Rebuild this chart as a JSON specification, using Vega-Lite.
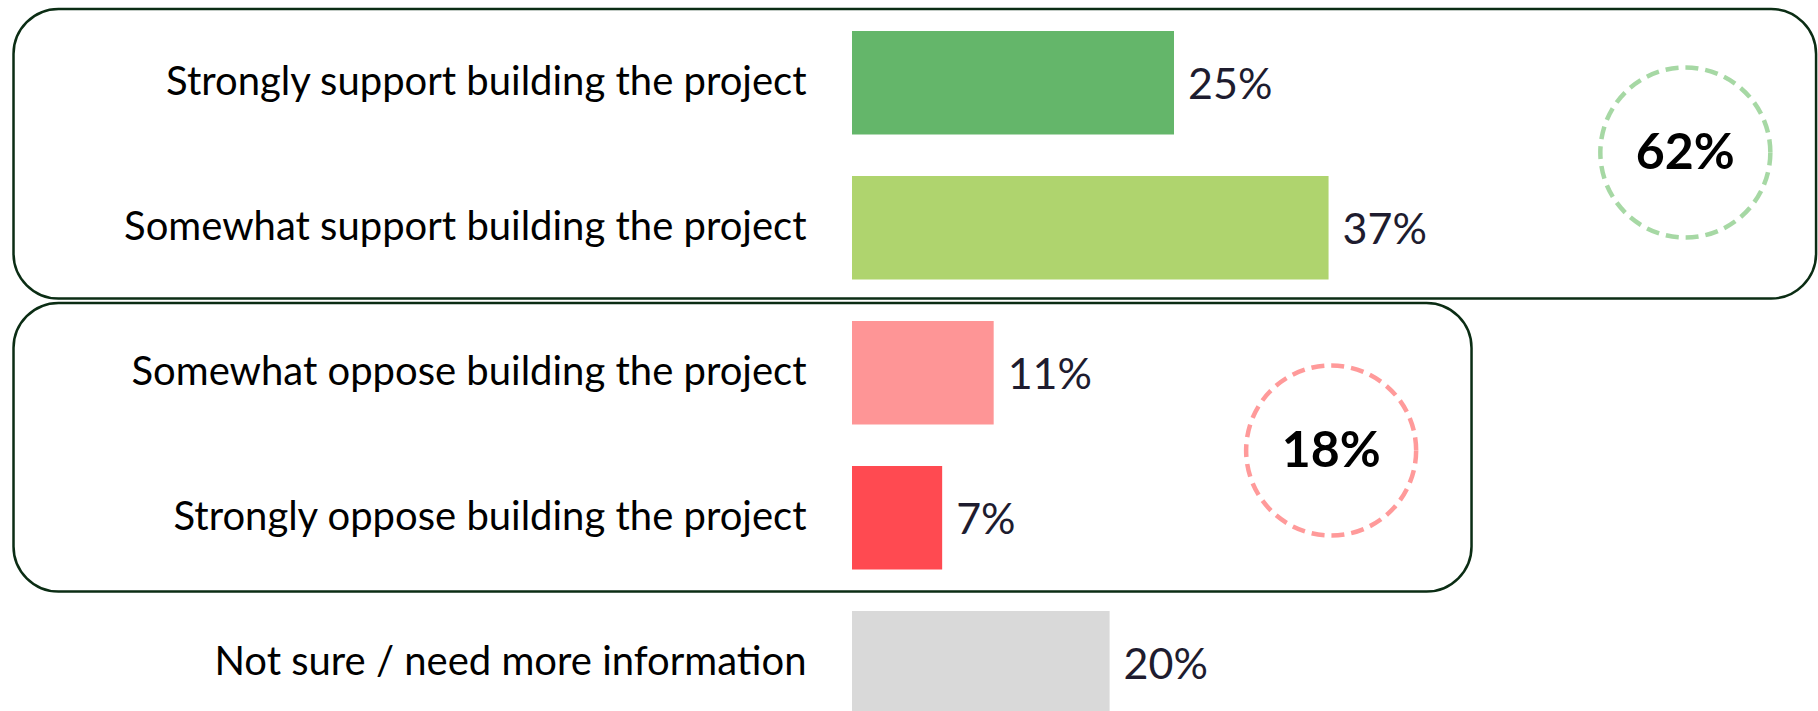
{
  "$schema": "https://vega.github.io/schema/vega-lite/v6.json",
  "width": 966,
  "height": 745.5,
  "autosize": {"type": "none"},
  "padding": {"left": 852, "top": 0, "right": 0, "bottom": 0},
  "background": "white",
  "config": {"view": {"stroke": null}, "font": "Lato"},
  "datasets": {
    "bars": [
      {"answer": "Strongly support building the project", "pct": 25, "label": "25%"},
      {"answer": "Somewhat support building the project", "pct": 37, "label": "37%"},
      {"answer": "Somewhat oppose building the project", "pct": 11, "label": "11%"},
      {"answer": "Strongly oppose building the project", "pct": 7, "label": "7%"},
      {"answer": "Not sure / need more information", "pct": 20, "label": "20%"}
    ],
    "groups": [
      {"group": "Support", "first": "Strongly support building the project", "last": "Somewhat support building the project", "left": -65.1, "right": 74.85, "center": 64.7, "total": "62%"},
      {"group": "Oppose", "first": "Somewhat oppose building the project", "last": "Strongly oppose building the project", "left": -65.1, "right": 48.1, "center": 37.2, "total": "18%"}
    ]
  },
  "layer": [
    {
      "data": {"name": "bars"},
      "mark": {"type": "bar"},
      "encoding": {
        "y": {
          "field": "answer", "type": "nominal",
          "scale": {"domain": ["Strongly support building the project", "Somewhat support building the project", "Somewhat oppose building the project", "Strongly oppose building the project", "Not sure / need more information"], "paddingInner": 0.2862, "paddingOuter": 0.2138},
          "axis": {"title": null, "ticks": false, "domain": false, "labelFont": "Lato", "labelFontSize": 40, "labelColor": "#000000", "labelPadding": 46, "labelLimit": 1000}
        },
        "x": {"field": "pct", "type": "quantitative", "scale": {"domain": [0, 75], "nice": false, "zero": true}, "axis": null},
        "color": {
          "field": "answer", "type": "nominal", "legend": null,
          "scale": {"domain": ["Strongly support building the project", "Somewhat support building the project", "Somewhat oppose building the project", "Strongly oppose building the project", "Not sure / need more information"], "range": ["#64b66a", "#afd46e", "#fe9596", "#ff4a51", "#d9d9d9"]}
        }
      }
    },
    {
      "data": {"name": "bars"},
      "mark": {"type": "text", "align": "left", "baseline": "middle", "dx": 14, "dy": 3, "fontSize": 43, "font": "Lato", "color": "#1e1c2f"},
      "encoding": {
        "y": {"field": "answer", "type": "nominal"},
        "x": {"field": "pct", "type": "quantitative"},
        "text": {"field": "label"}
      }
    },
    {
      "data": {"name": "groups"},
      "transform": [{"filter": "datum.group === 'Support'"}],
      "layer": [
        {
          "mark": {"type": "rect", "filled": false, "stroke": "#0b2d14", "strokeWidth": 2.5, "cornerRadius": 45, "yOffset": -22, "y2Offset": 19},
          "encoding": {
            "x": {"field": "left", "type": "quantitative"},
            "x2": {"field": "right"},
            "y": {"field": "first", "type": "nominal", "bandPosition": 0},
            "y2": {"field": "last", "bandPosition": 1}
          }
        },
        {
          "mark": {"type": "point", "shape": "circle", "filled": false, "size": 28900, "strokeWidth": 4.5, "strokeDash": [13, 7], "yOffset": 69.75, "opacity": 1},
          "encoding": {
            "x": {"field": "center", "type": "quantitative"},
            "y": {"field": "first", "type": "nominal"},
            "stroke": {"field": "group", "type": "nominal", "legend": null, "scale": {"domain": ["Support", "Oppose"], "range": ["#a6d8a4", "#ff9a9a"]}}
          }
        },
        {
          "mark": {"type": "text", "align": "center", "baseline": "middle", "fontSize": 50, "fontWeight": "bold", "font": "Lato", "color": "#000000", "yOffset": 70.75},
          "encoding": {
            "x": {"field": "center", "type": "quantitative"},
            "y": {"field": "first", "type": "nominal"},
            "text": {"field": "total"}
          }
        }
      ]
    },
    {
      "data": {"name": "groups"},
      "transform": [{"filter": "datum.group === 'Oppose'"}],
      "layer": [
        {
          "mark": {"type": "rect", "filled": false, "stroke": "#0b2d14", "strokeWidth": 2.5, "cornerRadius": 45, "yOffset": -18, "y2Offset": 22},
          "encoding": {
            "x": {"field": "left", "type": "quantitative"},
            "x2": {"field": "right"},
            "y": {"field": "first", "type": "nominal", "bandPosition": 0},
            "y2": {"field": "last", "bandPosition": 1}
          }
        },
        {
          "mark": {"type": "point", "shape": "circle", "filled": false, "size": 28900, "strokeWidth": 4.5, "strokeDash": [13, 7], "yOffset": 77.75, "opacity": 1},
          "encoding": {
            "x": {"field": "center", "type": "quantitative"},
            "y": {"field": "first", "type": "nominal"},
            "stroke": {"field": "group", "type": "nominal", "legend": null, "scale": {"domain": ["Support", "Oppose"], "range": ["#a6d8a4", "#ff9a9a"]}}
          }
        },
        {
          "mark": {"type": "text", "align": "center", "baseline": "middle", "fontSize": 50, "fontWeight": "bold", "font": "Lato", "color": "#000000", "yOffset": 78.75},
          "encoding": {
            "x": {"field": "center", "type": "quantitative"},
            "y": {"field": "first", "type": "nominal"},
            "text": {"field": "total"}
          }
        }
      ]
    }
  ]
}
